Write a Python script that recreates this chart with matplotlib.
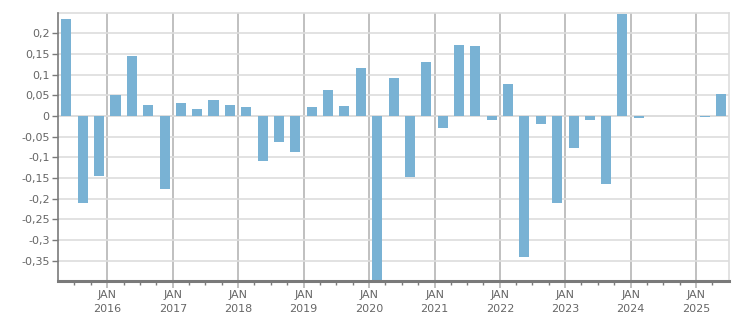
import matplotlib
matplotlib.use("Agg")
import matplotlib.pyplot as plt
import matplotlib.dates as mdates
import matplotlib.ticker as mticker
import datetime as dt

# Quarterly data, Q2 2015 .. Q2 2025
quarters = [
    "2015-Q2", "2015-Q3", "2015-Q4",
    "2016-Q1", "2016-Q2", "2016-Q3", "2016-Q4",
    "2017-Q1", "2017-Q2", "2017-Q3", "2017-Q4",
    "2018-Q1", "2018-Q2", "2018-Q3", "2018-Q4",
    "2019-Q1", "2019-Q2", "2019-Q3", "2019-Q4",
    "2020-Q1", "2020-Q2", "2020-Q3", "2020-Q4",
    "2021-Q1", "2021-Q2", "2021-Q3", "2021-Q4",
    "2022-Q1", "2022-Q2", "2022-Q3", "2022-Q4",
    "2023-Q1", "2023-Q2", "2023-Q3", "2023-Q4",
    "2024-Q1", "2024-Q2", "2024-Q3", "2024-Q4",
    "2025-Q1", "2025-Q2",
]
values = [
    0.235, -0.210, -0.144,
    0.051, 0.145, 0.027, -0.176,
    0.031, 0.017, 0.039, 0.027,
    0.022, -0.108, -0.062, -0.086,
    0.022, 0.063, 0.024, 0.116,
    -0.42, 0.092, -0.147, 0.131,
    -0.028, 0.172, 0.169, -0.009,
    0.077, -0.340, -0.019, -0.210,
    -0.077, -0.009, -0.164, 0.246,
    -0.004, 0.0, 0.0, 0.0,
    -0.002, 0.053,
]
y_ticks = [-0.35, -0.3, -0.25, -0.2, -0.15, -0.1, -0.05, 0, 0.05, 0.1, 0.15, 0.2]
year_ticks = list(range(2016, 2026))

def q_center(q):
    y, qq = q.split("-Q")
    start = dt.date(int(y), 3 * (int(qq) - 1) + 1, 1)
    return start + dt.timedelta(days=46)

x = [q_center(q) for q in quarters]

bar_color = "#79b2d4"
text_color = "#666666"
axis_color = "#7a7a7a"

fig = plt.figure(figsize=(7.51, 3.13), dpi=100)
ax = fig.add_axes([58 / 751, (313 - 280.7) / 313, (728.7 - 58) / 751, (280.7 - 13.3) / 313])

ax.bar(x, values, width=56, color=bar_color, linewidth=0, zorder=3)

ax.set_xlim(mdates.date2num(dt.date(2015, 4, 1)), mdates.date2num(dt.date(2025, 7, 1)))
ax.set_ylim(-0.398, 0.248)

# y axis
ax.set_yticks(y_ticks)
ax.yaxis.set_major_formatter(mticker.FuncFormatter(
    lambda v, p: ("0" if abs(v) < 1e-9 else ("%g" % round(v, 2)).replace(".", ","))))
ax.yaxis.grid(True, color="#dddddd", linewidth=1.2, zorder=0)
ax.axhline(0, color="#dddddd", linewidth=1.2, zorder=1)

# x axis
ax.set_xticks([mdates.date2num(dt.date(y, 1, 1)) for y in year_ticks])
ax.set_xticklabels(["JAN\n%d" % y for y in year_ticks])
minor = []
for y in range(2015, 2026):
    for m in (4, 7, 10):
        d = dt.date(y, m, 1)
        if dt.date(2015, 4, 2) < d < dt.date(2025, 7, 1):
            minor.append(mdates.date2num(d))
ax.set_xticks(minor, minor=True)
ax.xaxis.grid(True, which="major", color="#b5b5b5", linewidth=1.2, zorder=0)

ax.tick_params(axis="x", which="major", length=5, width=1.2, color="#b5b5b5",
               labelsize=8, labelcolor=text_color, pad=2)
ax.tick_params(axis="x", which="minor", length=3, width=1, color=axis_color)
ax.tick_params(axis="y", which="major", length=4, width=1, color=axis_color,
               labelsize=8, labelcolor=text_color, pad=2)
for lab in ax.get_xticklabels():
    lab.set_linespacing(1.5)

for s in ("top", "right"):
    ax.spines[s].set_color("#dddddd")
    ax.spines[s].set_linewidth(1.2)
ax.spines["left"].set_color(axis_color)
ax.spines["left"].set_linewidth(1.2)
ax.spines["bottom"].set_color(axis_color)
ax.spines["bottom"].set_linewidth(2.2)
ax.spines["bottom"].set_zorder(5)
ax.spines["left"].set_zorder(5)

fig.savefig("out.png", dpi=100)
